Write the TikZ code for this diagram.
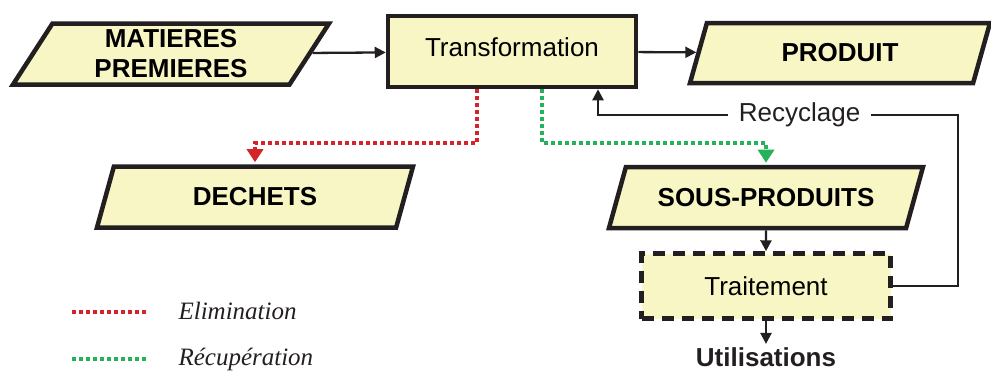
\documentclass[tikz,border=0pt]{standalone}
\usepackage{fontspec}
\setmainfont{Liberation Sans}
\newfontfamily\legfont{Liberation Serif}
\usetikzlibrary{shapes.geometric, arrows.meta, positioning, calc}
\definecolor{boxfill}{RGB}{247,246,196}
\definecolor{elimred}{RGB}{213,35,42}
\definecolor{recupgreen}{RGB}{38,178,90}
\definecolor{ink}{RGB}{35,31,32}

\begin{document}
\begin{tikzpicture}[x=1pt,y=-1pt,
  flux/.style={trapezium, trapezium left angle=53, trapezium right angle=127,
    trapezium stretches body, draw=ink, line width=4.5pt, fill=boxfill,
    font=\fontsize{26}{30}\selectfont\bfseries, align=center, inner ysep=2pt,
    minimum height=61pt},
  etape/.style={rectangle, draw=ink, line width=4.5pt, fill=boxfill,
    font=\fontsize{26}{30}\selectfont},
  fleche/.style={draw=ink, line width=2.3pt, -{Triangle[length=11pt,width=11pt]}},
  elimline/.style={draw=elimred, line width=4pt, dash pattern=on 4pt off 3pt},
  recupline/.style={draw=recupgreen, line width=4pt, dash pattern=on 4pt off 3pt},
  elim/.style={elimline, -{Triangle[length=13pt,width=16pt]}, shorten >=2pt},
  recup/.style={recupline, -{Triangle[length=13pt,width=16pt]}, shorten >=2pt},
  legende/.style={font=\legfont\itshape\fontsize{25}{28}\selectfont, text=ink, anchor=west}]
\useasboundingbox (0,0) rectangle (991,370);

% boites
\node[flux, minimum width=316pt] (mp) at (171,54) {MATIERES\\PREMIERES};
\node[etape, minimum width=248pt, minimum height=71pt, text depth=9pt] (trans) at (512,51.5) {Transformation};
\node[flux, minimum width=300pt, minimum height=60pt] (prod) at (840,53) {PRODUIT};
\node[flux, minimum width=316pt] (dech) at (255,197) {DECHETS};
\node[flux, minimum width=314pt] (sp) at (766,197.5) {SOUS-PRODUITS};
\node[etape, dash pattern=on 12pt off 8pt, minimum width=249pt, minimum height=65pt] (trait) at (766,286) {Traitement};
\node[font=\fontsize{26}{30}\selectfont\bfseries, text=ink] (util) at (766,357) {Utilisations};

% fleches
\draw[fleche] (mp) -- (trans);
\draw[fleche] (trans) -- (prod);
\draw[elim] ([xshift=-35pt]trans.south) -- ++(0,54) -| (dech.north);
\draw[recup] ([xshift=30pt]trans.south) -- ++(0,54) -| (sp.north);
\draw[fleche] (sp) -- (trait);
\draw[fleche] (trait) -- (util);

% recyclage
\coordinate (rcyA) at (958,115);
\coordinate (rcyB) at (598,115);
\draw[fleche] (trait.east) -| (rcyA) -- node[pos=0.44, fill=white, inner xsep=11pt, text=ink, font=\fontsize{26}{30}\selectfont] {Recyclage} (rcyB) -- (rcyB |- trans.south);

% legende
\draw[elimline] (72,312) -- (147,312);
\draw[recupline] (72,359) -- (147,359);
\node[legende] (lgE) at (175,311) {Elimination};
\node[legende] (lgR) at (175,359) {Récupération};
\end{tikzpicture}
\end{document}
